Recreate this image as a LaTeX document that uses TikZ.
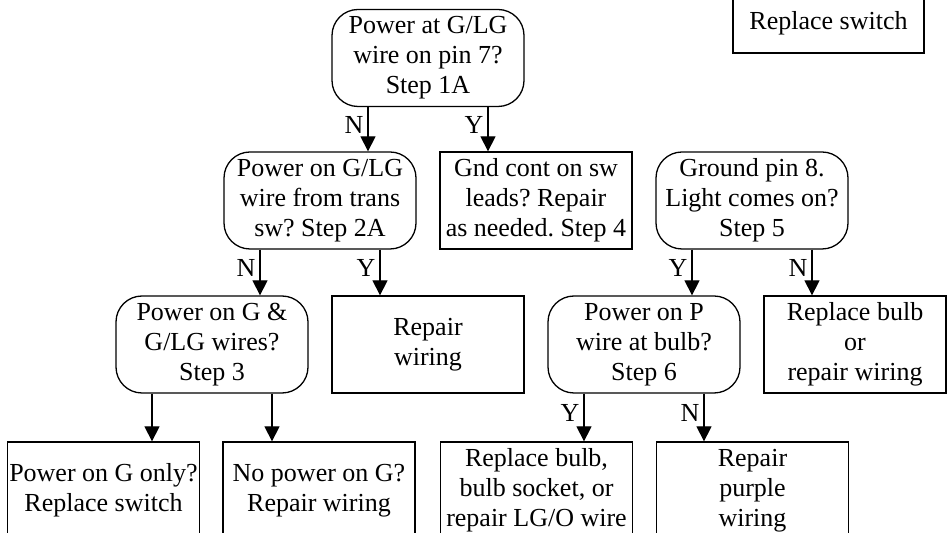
\documentclass[tikz,border=0pt]{standalone}
\usepackage{fontspec}
\setmainfont{Liberation Serif}
\usetikzlibrary{arrows.meta}
\frenchspacing

\begin{document}
\begin{tikzpicture}[
    x=0.5pt, y=-0.5pt,
    line width=0.65pt,
    every node/.style={font=\fontsize{13}{15}\selectfont, align=center, inner sep=0pt},
    question/.style={draw, rounded corners=13pt, minimum width=96pt, minimum height=48.5pt},
    answer/.style={draw, minimum width=96pt, minimum height=48.5pt},
    link/.style={-{Triangle[length=7.5pt,width=7.5pt]}},
    yn/.style={left=1pt, inner sep=1pt, pos=0.4}
  ]
  \path[use as bounding box, clip] (0,0) rectangle (947,533);

  \node[question] (D1) at (428,58) {Power at G/LG\\wire on pin 7?\\Step 1A};
  \node[answer, minimum width=95.5pt, minimum height=30pt] (sw) at (828.5,23) {Replace switch};

  \node[question] (D2) at (320,200.5) {Power on G/LG\\wire from trans\\sw? Step 2A};
  \node[answer] (gnd) at (536,200.5) {Gnd cont on sw\\leads? Repair\\as needed. Step 4};
  \node[question] (D5) at (752,200.5) {Ground pin 8.\\Light comes on?\\Step 5};

  \node[question] (D3) at (212,344.5) {Power on G \&\\G/LG wires?\\Step 3};
  \node[answer] (rep) at (428,344.5) {Repair\\wiring};
  \node[question] (D6) at (644,344.5) {Power on P\\wire at bulb?\\Step 6};
  \node[answer, minimum width=91pt] (bulb) at (855,344.5) {Replace bulb\\or\\repair wiring};

  \node[answer] (onlyG) at (103.5,490.5) {Power on G only?\\Replace switch};
  \node[answer] (noG) at (319,490.5) {No power on G?\\Repair wiring};
  \node[answer] (socket) at (536.5,490.5) {Replace bulb,\\bulb socket, or\\repair LG/O wire};
  \node[answer] (purple) at (752.5,490.5) {Repair\\purple\\wiring};

  \draw[link] ([xshift=-30pt]D1.south) -- ([xshift=-30pt]D1.south |- D2.north) node[yn] {N};
  \draw[link] ([xshift=30pt]D1.south) -- ([xshift=30pt]D1.south |- gnd.north) node[yn] {Y};

  \draw[link] ([xshift=-30pt]D2.south) -- ([xshift=-30pt]D2.south |- D3.north) node[yn] {N};
  \draw[link] ([xshift=30pt]D2.south) -- ([xshift=30pt]D2.south |- rep.north) node[yn] {Y};

  \draw[link] ([xshift=-30pt]D5.south) -- ([xshift=-30pt]D5.south |- D6.north) node[yn] {Y};
  \draw[link] ([xshift=30pt]D5.south) -- ([xshift=30pt]D5.south |- bulb.north) node[yn] {N};

  \draw[link] ([xshift=-30pt]D3.south) -- ([xshift=-30pt]D3.south |- onlyG.north);
  \draw[link] ([xshift=30pt]D3.south) -- ([xshift=30pt]D3.south |- noG.north);

  \draw[link] ([xshift=-30pt]D6.south) -- ([xshift=-30pt]D6.south |- socket.north) node[yn] {Y};
  \draw[link] ([xshift=30pt]D6.south) -- ([xshift=30pt]D6.south |- purple.north) node[yn] {N};
\end{tikzpicture}
\end{document}
